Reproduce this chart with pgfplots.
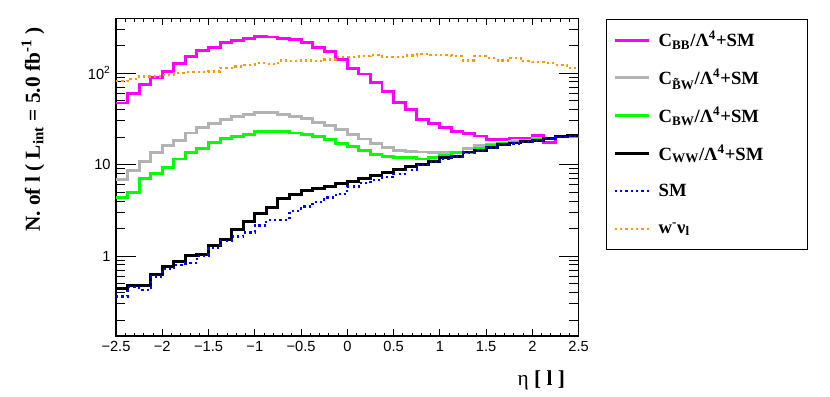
\documentclass[border=0pt]{standalone}
\usepackage{fontspec}
\setmainfont{Liberation Serif}
\setsansfont{Liberation Sans}
\usepackage{pgfplots}
\pgfplotsset{compat=1.18}
\definecolor{cbb}{HTML}{FF00FF}
\definecolor{cbt}{HTML}{B3B3B3}
\definecolor{cbw}{HTML}{00FF00}
\definecolor{smb}{HTML}{0000FF}
\definecolor{wnu}{HTML}{FF9900}

% eta bins of width 0.125, left edges; last row repeats the last bin
\pgfplotstableread{
x      bb     bwt    bw     ww     sm     wnu
-2.500 47     6.94   4.37   0.447  0.362  81
-2.375 59     8.63   4.95   0.477  0.458  86.7
-2.250 74.5   10.8   7.0    0.477  0.428  91.8
-2.125 90     13.4   7.94   0.635  0.598  91.8
-2.000 103    16.0   9.3    0.769  0.72   95.8
-1.875 126    18.2   11.5   0.873  0.80   100
-1.750 150    22.1   13.4   1.015  0.838  101.6
-1.625 175    25.4   15.1   1.05   1.01   101.6
-1.500 188    28.4   17.5   1.31   1.22   104
-1.375 213    30.9   19.1   1.51   1.47   113
-1.250 227    33.6   20.3   1.97   1.64   118
-1.125 237    35.0   21.2   2.39   1.81   123
-1.000 250    36.8   22.7   2.95   2.16   128
-0.875 247    36.6   23.0   3.43   2.49   125
-0.750 237    35.6   23.0   4.23   2.49   137
-0.625 233    33.6   22.1   4.71   3.13   134
-0.500 213    31.6   21.5   5.17   3.48   137
-0.375 191    29.1   20.3   5.53   3.89   134
-0.250 170    26.7   18.7   5.77   4.37   140
-0.125 142    24.4   16.8   6.28   4.8    150
 0.000 113    21.5   15.8   6.53   5.77   150
 0.125 97.5   19.0   14.2   7.11   6.28   152
 0.250 78     16.8   12.8   7.55   6.82   158
 0.375 63     15.4   12.1   8.28   7.29   150
 0.500 48     14.3   12.0   8.77   7.94   150
 0.625 40     13.9   12.0   9.53   8.77   155
 0.750 31.4   13.7   11.5   9.95   9.8    162
 0.875 28.1   13.5   11.8   10.8   10.6   156
 1.000 25.1   13.5   12.5   11.8   11.6   156
 1.125 23.0   13.7   13.4   12.3   12.2   152
 1.250 21.7   14.8   13.5   13.7   13.5   137
 1.375 20.5   16.0   14.8   14.3   14.2   152
 1.500 18.8   16.5   16.0   15.5   15.3   146
 1.625 18.8   17.2   16.9   16.5   16.3   137
 1.750 19.5   17.9   17.5   17.2   17.0   146
 1.875 19.5   18.3   17.9   17.9   17.7   134
 2.000 20.8   19.1   18.7   18.3   18.3   131
 2.125 17.5   19.5   19.5   19.1   19.0   128
 2.250 20.3   20.3   20.3   20.3   20.1   123
 2.375 20.8   20.6   20.0   20.6   20.6   113
 2.500 20.8   20.6   20.0   20.6   20.6   113
}\etadata

\newcommand{\lent}[1]{\makebox[106pt][l]{#1}}

\begin{document}
\begin{tikzpicture}
\useasboundingbox (-87pt,-45pt) rectangle (535.5pt,252pt);
\begin{axis}[
  scale only axis, width=347pt, height=238pt,
  ymode=log, xmin=-2.5, xmax=2.5, ymin=0.134, ymax=392,
  xtick={-2.5,-2,...,2.5},
  xticklabels={−2.5,−2,−1.5,−1,−0.5,0,0.5,1,1.5,2,2.5},
  minor x tick num=4,
  ytick={1,10,100}, yticklabels={1,10,10\textsuperscript{2}},
  minor ytick={0.2,0.3,0.4,0.5,0.6,0.7,0.8,0.9,2,3,4,5,6,7,8,9,20,30,40,50,60,70,80,90,200,300},
  tick align=inside,
  axis line style={line width=0.8pt},
  tick style={line width=0.7pt, black},
  xtick style={/pgfplots/major tick length=5pt, /pgfplots/minor tick length=2.6pt},
  ytick style={/pgfplots/major tick length=15pt, /pgfplots/minor tick length=7pt},
  ticklabel style={font=\sffamily\fontsize{11}{12}\selectfont},
  xticklabel style={yshift=-0.5pt},
  yticklabel style={xshift=-0.5pt},
  xlabel={η \textbf{[ l ]}},
  xlabel style={at={([xshift=-6.75pt,yshift=-33pt]axis description cs:1,0)}, anchor=east, font=\fontsize{16}{18}\selectfont},
  ylabel={\textbf{N. of l ( L\textsubscript{int} = 5.0 fb\textsuperscript{-1} )}},
  ylabel style={at={([xshift=-62.25pt,yshift=-3pt]axis description cs:0,1)}, anchor=east, font=\fontsize{16}{18}\selectfont},
  legend style={at={(axis description cs:1.0583,1)}, anchor=north west,
    draw=black, line width=0.75pt, fill=white,
    inner xsep=5.25pt, inner ysep=1.5pt, row sep=0pt,
    font=\bfseries\fontsize{14}{16}\selectfont,
    nodes={minimum height=28.3pt, inner xsep=0pt},
    /tikz/every odd column/.append style={column sep=6pt}},
  legend cell align=left,
  legend image code/.code={\draw[#1] (0pt,0pt) -- (26pt,0pt);},
  hist/.style={const plot, mark=none, line width=2.2pt},
  dots/.style={const plot, mark=none, line width=1.7pt, dash pattern=on 1.7pt off 2.3pt},
]
\addplot[hist, cbb] table[x=x, y=bb] {\etadata};
\addlegendentry{\lent{C\textsubscript{BB}/Λ\textsuperscript{4}+SM}}
\addplot[hist, cbt] table[x=x, y=bwt] {\etadata};
\addlegendentry{\lent{C\textsubscript{\~{B}W}/Λ\textsuperscript{4}+SM}}
\addplot[hist, cbw] table[x=x, y=bw] {\etadata};
\addlegendentry{\lent{C\textsubscript{BW}/Λ\textsuperscript{4}+SM}}
\addplot[hist, black] table[x=x, y=ww] {\etadata};
\addlegendentry{\lent{C\textsubscript{WW}/Λ\textsuperscript{4}+SM}}
\addplot[dots, smb] table[x=x, y=sm] {\etadata};
\addlegendentry{\lent{SM}}
\addplot[dots, wnu] table[x=x, y=wnu] {\etadata};
\addlegendentry{\lent{w\textsuperscript{-}ν\textsubscript{l}}}
\end{axis}
\end{tikzpicture}
\end{document}
